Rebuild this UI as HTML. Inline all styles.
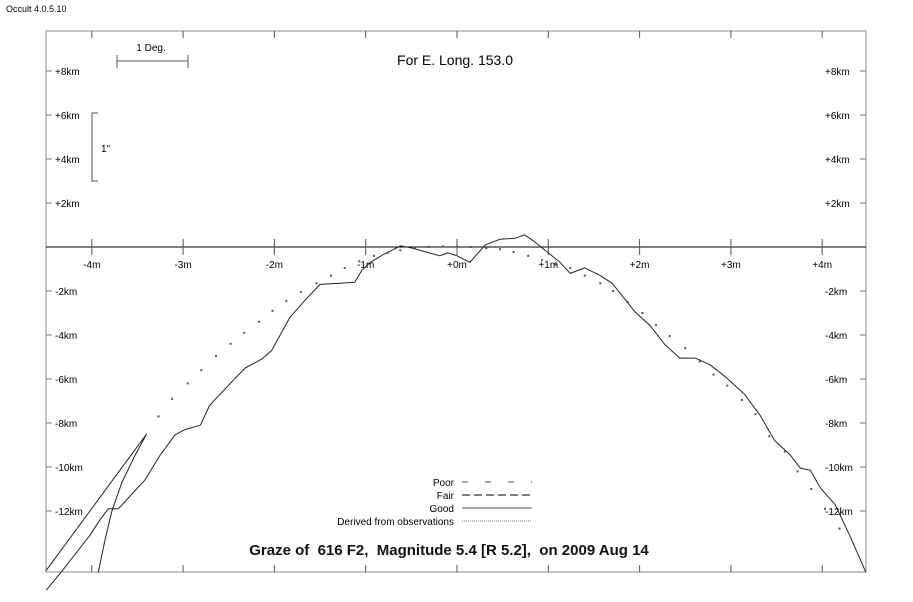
<!DOCTYPE html>
<html><head><meta charset="utf-8"><style>
body{margin:0;background:#fff;}
svg{display:block;font-family:"Liberation Sans",sans-serif;}
</style></head><body>
<svg id="chart" width="913" height="602" viewBox="0 0 913 602">
<text x="6" y="12" font-size="9">Occult 4.0.5.10</text>
<rect x="46" y="31" width="820" height="541" fill="none" stroke="#888" stroke-width="1"/>
<g id="axes"></g>
<g id="series"></g>
<text x="455" y="65" font-size="14" text-anchor="middle">For E. Long. 153.0</text>
<g stroke="#555">
<line x1="117" y1="61" x2="188" y2="61"/><line x1="117" y1="55" x2="117" y2="68"/><line x1="188" y1="55" x2="188" y2="68"/></g>
<text x="151" y="51" font-size="10" text-anchor="middle">1 Deg.</text>
<path d="M98 113 H92 V181 H98" fill="none" stroke="#555"/>
<text x="101" y="152" font-size="10">1"</text>
<g font-size="10" text-anchor="end">
<text x="454" y="486">Poor</text>
<text x="454" y="499">Fair</text>
<text x="454" y="512">Good</text>
<text x="454" y="525">Derived from observations</text>
<line x1="462" y1="482" x2="532" y2="482" stroke="#555" stroke-dasharray="6,17"/>
<line x1="462" y1="495" x2="532" y2="495" stroke="#000" stroke-dasharray="8,4"/>
<line x1="462" y1="508" x2="532" y2="508" stroke="#555"/>
<line x1="462" y1="521" x2="532" y2="521" stroke="#777" stroke-dasharray="1,1"/>
</g>
<text x="449" y="555" font-size="15" font-weight="bold" text-anchor="middle" fill="#111" style="white-space:pre" xml:space="preserve">Graze of  616 F2,  Magnitude 5.4 [R 5.2],  on 2009 Aug 14</text>
</svg>
<script>
const xTickMinutes=[-4,-3,-2,-1,0,1,2,3,4];
const xTickLabels=["-4m","-3m","-2m","-1m","+0m","+1m","+2m","+3m","+4m"];
const yTickKm=[8,6,4,2,-2,-4,-6,-8,-10,-12];
const yTickLabels=["+8km","+6km","+4km","+2km","-2km","-4km","-6km","-8km","-10km","-12km"];
const profileMin=[-4.50,-4.34,-4.02,-3.91,-3.82,-3.71,-3.42,-3.25,-3.09,-2.98,-2.81,-2.71,-2.46,-2.32,-2.14,-2.03,-1.83,-1.66,-1.50,-1.28,-1.12,-1.04,-0.95,-0.81,-0.62,-0.49,-0.19,-0.10,0,0.14,0.31,0.47,0.64,0.74,0.83,1.00,1.13,1.24,1.40,1.57,1.70,1.95,2.11,2.28,2.44,2.61,2.77,2.94,3.15,3.32,3.48,3.65,3.76,3.87,3.98,4.14,4.30,4.48];
const profileKm=[-15.6,-14.8,-13.1,-12.4,-11.9,-11.9,-10.6,-9.45,-8.55,-8.3,-8.1,-7.2,-6.1,-5.5,-5.1,-4.7,-3.2,-2.4,-1.7,-1.65,-1.6,-1.05,-0.7,-0.35,0.05,-0.05,-0.4,-0.27,-0.4,-0.7,0.1,0.35,0.4,0.55,0.3,-0.27,-0.7,-1.2,-0.95,-1.3,-1.65,-2.95,-3.55,-4.45,-5.05,-5.05,-5.35,-5.9,-6.7,-7.65,-8.8,-9.45,-10.05,-10.15,-10.95,-11.7,-13.1,-14.8];
const predMin=[-3.27,-3.12,-2.95,-2.80,-2.64,-2.48,-2.33,-2.17,-2.02,-1.87,-1.71,-1.54,-1.38,-1.23,-1.07,-0.91,-0.76,-0.62,-0.46,-0.31,-0.15,0,0.15,0.32,0.47,0.62,0.78,0.93,1.08,1.24,1.40,1.57,1.71,1.87,2.03,2.18,2.33,2.50,2.66,2.81,2.96,3.12,3.27,3.42,3.59,3.73,3.88,4.03,4.19];
const predKm=[-7.7,-6.9,-6.2,-5.6,-4.95,-4.4,-3.9,-3.4,-2.9,-2.45,-2.05,-1.65,-1.3,-0.95,-0.65,-0.4,-0.27,-0.15,-0.05,0,0.03,0.02,0,-0.05,-0.1,-0.23,-0.4,-0.6,-0.8,-0.95,-1.3,-1.65,-2.0,-2.5,-3.0,-3.55,-4.05,-4.6,-5.2,-5.8,-6.3,-6.95,-7.6,-8.6,-9.3,-10.2,-11.0,-11.9,-12.8];
const lineAMin=[-4.50,-3.40];
const lineAKm=[-14.7,-8.5];
const lineBMin=[-3.93,-3.86,-3.78,-3.67,-3.53,-3.40];
const lineBKm=[-14.8,-13.4,-12.0,-10.7,-9.5,-8.5];
const X=m=>457+m*91.3, Y=k=>247-k*22;
const NS='http://www.w3.org/2000/svg';
function mk(t,a,p){const e=document.createElementNS(NS,t);for(const k in a)e.setAttribute(k,a[k]);p.appendChild(e);return e;}
const ax=document.getElementById('axes'), se=document.getElementById('series');
const xl=mk('line',{x1:46,y1:Y(0),x2:866,y2:Y(0),stroke:'#000'},ax);


xTickMinutes.forEach((m,i)=>{const x=X(m);
 [[Y(0)-8,Y(0)+8],[31,38],[565,572]].forEach(r=>{const t=mk('line',{x1:x,y1:r[0],x2:x,y2:r[1],stroke:'#555'},ax);
 
 });
 const tx=mk('text',{x:x,y:Y(0)+21,'font-size':10,'text-anchor':'middle'},ax);tx.textContent=xTickLabels[i];
 
 });
yTickKm.forEach((k,i)=>{const y=Y(k);
 [[46,52],[860,866]].forEach(r=>{const t=mk('line',{x1:r[0],y1:y,x2:r[1],y2:y,stroke:'#777'},ax);
 
 });
 [55,825].forEach(xx=>{const tx=mk('text',{x:xx,y:y+4,'font-size':10},ax);tx.textContent=yTickLabels[i];
 
 });});
function poly(ms,ks,name){const p=mk('polyline',{points:ms.map((m,i)=>X(m).toFixed(1)+','+Y(ks[i]).toFixed(1)).join(' '),fill:'none',stroke:'#222','stroke-width':1,'stroke-linejoin':'round'},se);
 
 }
poly(profileMin,profileKm,'limb-profile-line');
poly(lineAMin,lineAKm,'limit-line-a');
poly(lineBMin,lineBKm,'limit-line-b');
predMin.forEach((m,i)=>{const d=mk('rect',{x:X(m)-1,y:Y(predKm[i])-1,width:2,height:2,fill:'#555'},se);
 
 });
</script>
</body></html>
